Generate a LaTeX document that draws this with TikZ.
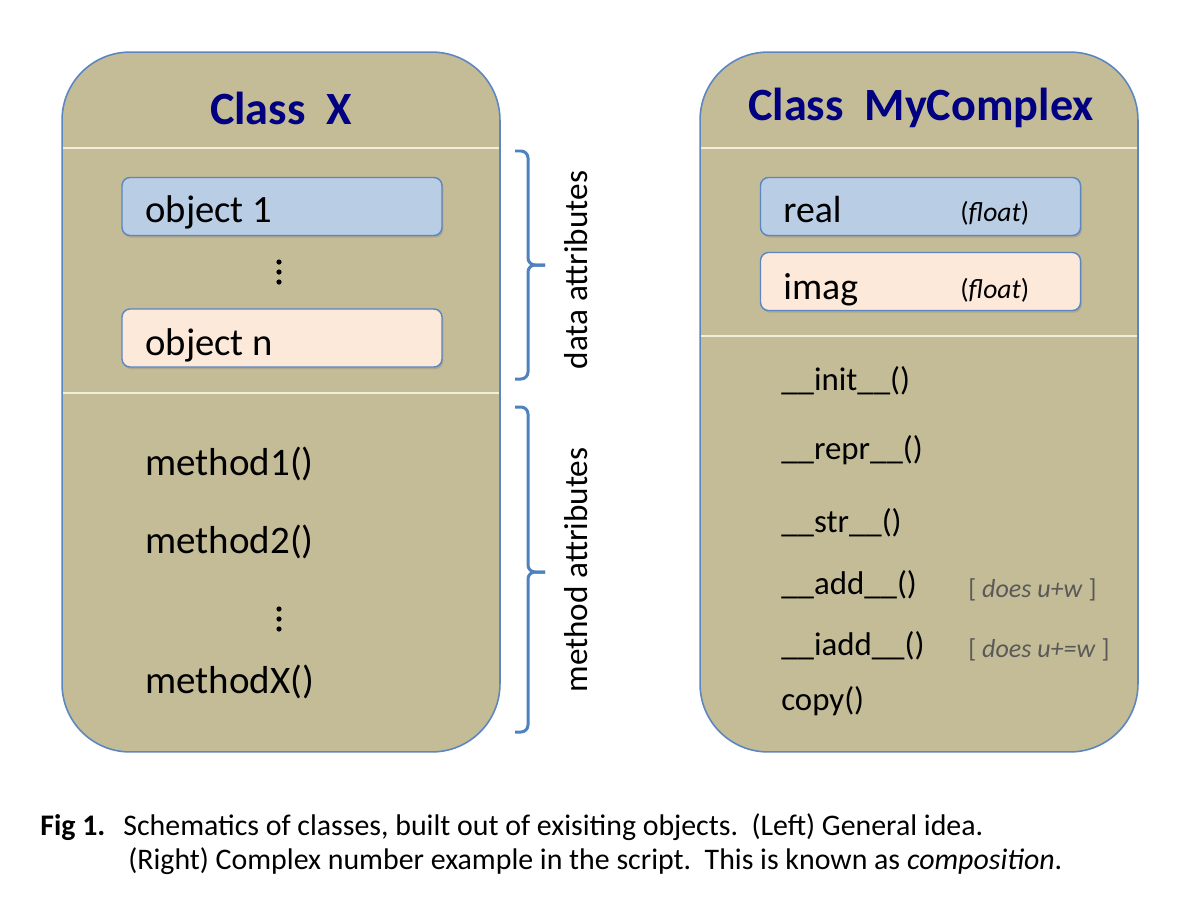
\documentclass[tikz,border=0pt]{standalone}
\usepackage{fontspec}
\setmainfont{Carlito}
\usetikzlibrary{shadows}
\definecolor{tanfill}{HTML}{C4BC96}
\definecolor{edgeblue}{HTML}{5B86C0}
\definecolor{bluefill}{HTML}{B9CDE5}
\definecolor{peachfill}{HTML}{FDE9D9}
\definecolor{navy}{HTML}{000080}
\definecolor{divcol}{HTML}{F2EEDC}
\definecolor{graytext}{HTML}{595959}
\definecolor{bracecol}{HTML}{4F81BD}
\tikzset{
  classbox/.style={draw=edgeblue, line width=0.9pt, fill=tanfill, rounded corners=1.36cm,
    minimum width=8.76cm, minimum height=14cm, inner sep=0pt},
  objbox/.style={draw=edgeblue, line width=0.8pt, rounded corners=0.16cm,
    minimum width=6.4cm, minimum height=1.16cm, inner sep=0pt,
    drop shadow={shadow xshift=0.8pt, shadow yshift=-1.2pt, opacity=0.35}},
  divider/.style={draw=divcol, line width=0.8pt},
  title/.style={font=\fontsize{26.3}{30}\selectfont\bfseries, text=navy},
  objtext/.style={anchor=mid west, font=\fontsize{22}{26}\selectfont, inner sep=0pt},
  methL/.style={anchor=mid west, font=\fontsize{22.2}{26}\selectfont, inner sep=0pt},
  methR/.style={anchor=mid west, font=\fontsize{18.7}{22}\selectfont, inner sep=0pt},
  typetext/.style={anchor=mid west, font=\fontsize{15.7}{18}\selectfont, inner sep=0pt},
  notetext/.style={anchor=mid west, font=\fontsize{14.8}{17}\selectfont, text=graytext, inner sep=0pt},
  sidelabel/.style={rotate=90, font=\fontsize{18.9}{22}\selectfont, inner sep=0pt},
  bracestyle/.style={draw=bracecol, line width=1.7pt, rounded corners=4pt},
  captext/.style={anchor=base west, font=\fontsize{17}{20}\selectfont, inner sep=0pt},
  vdot/.style={fill=black},
}
\begin{document}
\begin{tikzpicture}[x=0.02cm,y=-0.02cm]
\useasboundingbox (0,0) rectangle (1200,900);
\fill[white] (0,0) rectangle (1200,900);

% left class
\node[classbox] (L) at (281,402) {};
\node[title] (Lt) at (281,108) {Class~~X};
\draw[divider] (63,148) -- (499,148);
\draw[divider] (63,393) -- (499,393);
\node[objbox, fill=bluefill] (o1) at (282,206.5) {};
\node[objtext] (o1t) at (145,218) {object 1};
\foreach \yy in {262,272,282} \fill[vdot] (279,\yy) circle (2.6);
\node[objbox, fill=peachfill] (on) at (282,338) {};
\node[objtext] (ont) at (145,351) {object n};
\node[methL] (m1) at (145,471) {method1()};
\node[methL] (m2) at (145,549) {method2()};
\foreach \yy in {609,619,629} \fill[vdot] (279,\yy) circle (2.6);
\node[methL] (mx) at (145,689) {methodX()};

% braces
\draw[bracestyle] (515,151) -- (528,151) -- (528,265) -- (545,265);
\draw[bracestyle] (545,265) -- (528,265) -- (528,379) -- (515,379);
\draw[bracestyle] (515,407) -- (528,407) -- (528,572) -- (545,572);
\draw[bracestyle] (545,572) -- (528,572) -- (528,732) -- (515,732);
\node[sidelabel] (dl) at (576,270) {data attributes};
\node[sidelabel] (ml) at (576,570) {method attributes};

% right class
\node[classbox] (R) at (919,402) {};
\node[title] (Rt) at (921,108) {Class~~MyComplex};
\draw[divider] (701,148) -- (1137,148);
\draw[divider] (701,336) -- (1137,336);
\node[objbox, fill=bluefill] (re) at (920.5,206.5) {};
\node[objtext, font=\fontsize{21.5}{25}\selectfont] (ret) at (783,218) {real};
\node[typetext] (ref) at (960,217) {(\textit{float})};
\node[objbox, fill=peachfill] (im) at (920.5,281.5) {};
\node[objtext, font=\fontsize{21.5}{25}\selectfont] (imt) at (783,295) {imag};
\node[typetext] (imf) at (960,294) {(\textit{float})};
\node[methR] (r1) at (781,386) {\_\_init\_\_()};
\node[methR] (r2) at (781,455) {\_\_repr\_\_()};
\node[methR] (r3) at (781,528) {\_\_str\_\_()};
\node[methR] (r4) at (781,590) {\_\_add\_\_()};
\node[notetext] (n4) at (968,593) {[ \textit{does u+w} ]};
\node[methR] (r5) at (781,651) {\_\_iadd\_\_()};
\node[notetext] (n5) at (968,653) {[ \textit{does u+=w} ]};
\node[methR] (r6) at (781,706) {copy()};

% caption
\node[captext] (cf) at (40,835) {\textbf{Fig 1.}};
\node[captext] (c1) at (123,835) {Schematics of classes, built out of exisiting objects.~~(Left) General idea.};
\node[captext] (c2) at (128,869) {(Right) Complex number example in the script.~~This is known as \textit{composition}.};
\end{tikzpicture}
\end{document}
